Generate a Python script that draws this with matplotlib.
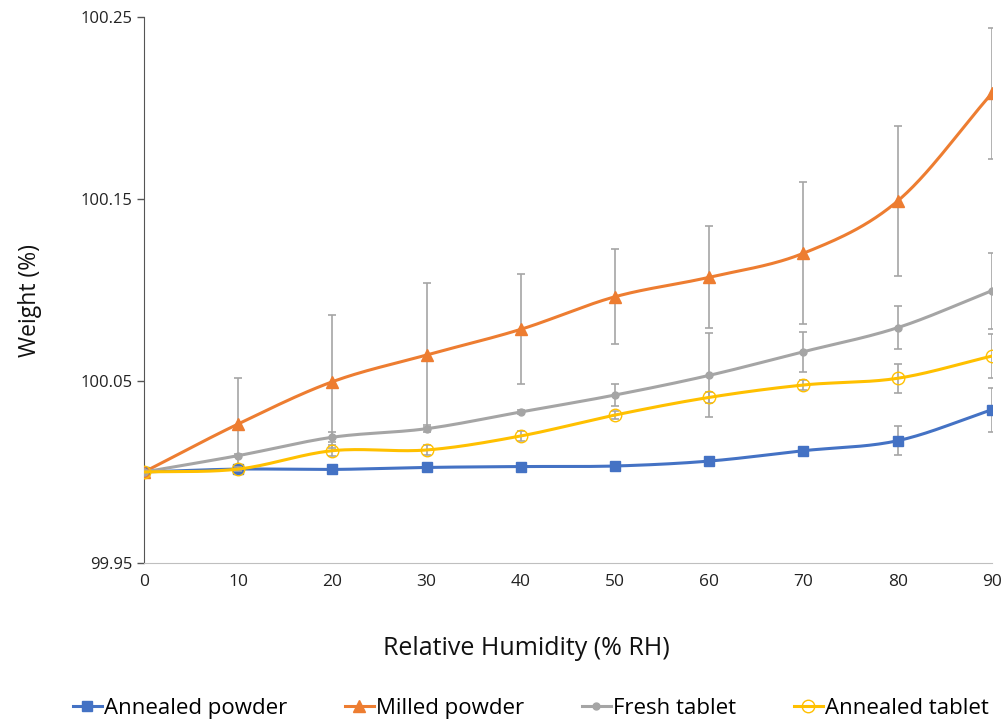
import numpy as np
import matplotlib.pyplot as plt

rh = [0, 10, 20, 30, 40, 50, 60, 70, 80, 90]

annealed_powder = [100.0, 100.0016, 100.0014, 100.0025, 100.003, 100.0033, 100.006, 100.0117, 100.0172, 100.0342]
annealed_powder_err = [0.001, 0.001, 0.0015, 0.001, 0.001, 0.001, 0.002, 0.001, 0.008, 0.012]

milled_powder = [100.0, 100.0264, 100.0496, 100.0643, 100.0784, 100.0963, 100.107, 100.1202, 100.1489, 100.2081]
milled_powder_err = [0.0, 0.0255, 0.0365, 0.0398, 0.0303, 0.026, 0.028, 0.039, 0.041, 0.036]

fresh_tablet = [100.0, 100.009, 100.0191, 100.0238, 100.033, 100.0423, 100.0531, 100.0661, 100.0793, 100.0996]
fresh_tablet_err = [0.0, 0.001, 0.0028, 0.002, 0.001, 0.006, 0.023, 0.011, 0.0118, 0.021]

annealed_tablet = [100.0, 100.0016, 100.0117, 100.0121, 100.0198, 100.0313, 100.041, 100.0478, 100.0515, 100.0637]
annealed_tablet_err = [0.0, 0.001, 0.003, 0.003, 0.003, 0.002, 0.003, 0.003, 0.008, 0.012]

plt.rcParams["font.family"] = ["Open Sans", "DejaVu Sans"]


def smooth(x, y, n=30):
    # Catmull-Rom curve through the points, like a spreadsheet "smoothed line"
    x = np.asarray(x, float)
    y = np.asarray(y, float)
    px = np.concatenate([[2 * x[0] - x[1]], x, [2 * x[-1] - x[-2]]])
    py = np.concatenate([[2 * y[0] - y[1]], y, [2 * y[-1] - y[-2]]])
    xs, ys = [], []
    t = np.linspace(0, 1, n, endpoint=False)
    for i in range(1, len(px) - 2):
        for arr, out in ((px, xs), (py, ys)):
            p0, p1, p2, p3 = arr[i - 1], arr[i], arr[i + 1], arr[i + 2]
            out.extend(0.5 * ((2 * p1) + (-p0 + p2) * t
                              + (2 * p0 - 5 * p1 + 4 * p2 - p3) * t ** 2
                              + (-p0 + 3 * p1 - 3 * p2 + p3) * t ** 3))
    xs.append(x[-1])
    ys.append(y[-1])
    return np.array(xs), np.array(ys)


fig = plt.figure(figsize=(10.07, 7.23), dpi=100)
ax = fig.add_axes([0.143, 0.2213, 0.842, 0.7552])

ERR = "#A5A5A5"
series = [
    ("Annealed powder", annealed_powder, annealed_powder_err, "#4472C4",
     dict(marker="s", markersize=7, markerfacecolor="#4472C4", markeredgecolor="#4472C4")),
    ("Milled powder", milled_powder, milled_powder_err, "#ED7D31",
     dict(marker="^", markersize=9, markerfacecolor="#ED7D31", markeredgecolor="#ED7D31")),
    ("Fresh tablet", fresh_tablet, fresh_tablet_err, "#A5A5A5",
     dict(marker="o", markersize=5, markerfacecolor="#A5A5A5", markeredgecolor="#A5A5A5")),
    ("Annealed tablet", annealed_tablet, annealed_tablet_err, "#FFC000",
     dict(marker="o", markersize=9, markerfacecolor="none", markeredgecolor="#FFC000",
          markeredgewidth=1.0)),
]

handles = []
for z, (name, vals, err, color, mk) in enumerate(series):
    ax.errorbar(rh, vals, yerr=err, fmt="none", ecolor=ERR, elinewidth=1.2,
                capsize=3, capthick=1.2, zorder=2 + z)
    sx, sy = smooth(rh, vals)
    ax.plot(sx, sy, color=color, linewidth=2.2, zorder=3 + z)
    ax.plot(rh, vals, linestyle="none", zorder=4 + z, **mk)
    h, = ax.plot([], [], color=color, linewidth=2.2, **mk)
    handles.append(h)

ax.set_xlim(0, 90)
ax.set_ylim(99.95, 100.25)
ax.set_xticks(rh)
ax.set_yticks([99.95, 100.05, 100.15, 100.25])
ax.set_yticklabels(["99.95", "100.05", "100.15", "100.25"])
ax.tick_params(axis="x", length=0, labelsize=12.5, pad=8, colors="#222222")
ax.tick_params(axis="y", length=5, width=1, labelsize=12, color="#555555", labelcolor="#222222")

for side in ("top", "right"):
    ax.spines[side].set_visible(False)
ax.spines["left"].set_color("#555555")
ax.spines["bottom"].set_color("#BFBFBF")

ax.set_xlabel("Relative Humidity (% RH)", fontsize=18, color="#111111", va="center")
ax.xaxis.set_label_coords(0.4505, -0.156)
ax.set_ylabel("Weight (%)", fontsize=16.5, color="#111111", va="center")
ax.yaxis.set_label_coords(-0.134, 0.48)

fig.legend(handles, [s[0] for s in series], loc="lower center", ncol=4, frameon=False,
           fontsize=16, bbox_to_anchor=(0.527, -0.022), handlelength=1.3,
           handletextpad=0.1, columnspacing=2.6)

fig.savefig("out.png", dpi=100)
